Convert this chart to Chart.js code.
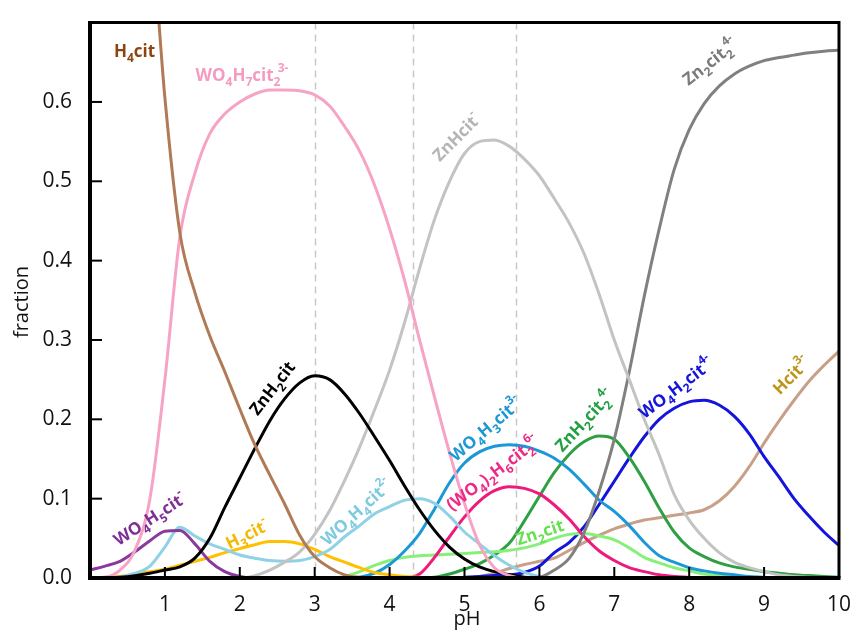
<!DOCTYPE html>
<html>
<head>
<meta charset="utf-8">
<script src="https://cdn.jsdelivr.net/npm/chart.js@4.4.1/dist/chart.umd.min.js"></script>
<style>
  html, body { margin: 0; padding: 0; background: #ffffff; }
  canvas { display: block; }
</style>
</head>
<body>
<canvas id="speciation" width="857" height="630"></canvas>
<script>
// pH grid shared by every species curve
const pH = [0,0.2,0.4,0.6,0.8,1.0,1.2,1.4,1.6,1.8,
            2.0,2.2,2.4,2.6,2.8,3.0,3.2,3.4,3.6,3.8,
            4.0,4.2,4.4,4.6,4.8,5.0,5.2,5.4,5.6,5.8,
            6.0,6.2,6.4,6.6,6.8,7.0,7.2,7.4,7.6,7.8,
            8.0,8.2,8.4,8.6,8.8,9.0,9.2,9.4,9.6,9.8,
            10];

// species fractions, one value per pH point
const H4cit = [0.98,0.975,0.96,0.93,0.84,0.605,0.435,0.36,0.305,0.26,
               0.213,0.168,0.13,0.093,0.054,0.027,0.013,0.004,0.001,0,
               0,0,0,0,0,0,0,0,0,0,
               0,0,0,0,0,0,0,0,0,0,
               0,0,0,0,0,0,0,0,0,0,
               0];
const WO4H7cit2 = [0,0.001,0.01,0.035,0.1,0.25,0.43,0.51,0.56,0.585,
                   0.60,0.61,0.615,0.615,0.614,0.609,0.595,0.569,0.538,0.495,
                   0.44,0.375,0.30,0.228,0.158,0.094,0.042,0.013,0.003,0,
                   0,0,0,0,0,0,0,0,0,0,
                   0,0,0,0,0,0,0,0,0,0,
                   0];
const ZnH2cit = [0,0,0.001,0.003,0.006,0.01,0.014,0.025,0.05,0.089,
                 0.126,0.163,0.198,0.226,0.246,0.255,0.25,0.232,0.207,0.178,
                 0.148,0.116,0.086,0.06,0.039,0.024,0.014,0.008,0.004,0.001,
                 0,0,0,0,0,0,0,0,0,0,
                 0,0,0,0,0,0,0,0,0,0,
                 0];
const ZnHcit = [0,0,0,0,0,0,0,0,0,0,
                0,0.003,0.01,0.02,0.033,0.055,0.085,0.123,0.165,0.212,
                0.262,0.322,0.39,0.452,0.5,0.535,0.55,0.552,0.544,0.528,
                0.507,0.478,0.447,0.408,0.357,0.30,0.25,0.2,0.155,0.105,
                0.073,0.05,0.032,0.02,0.013,0.008,0.004,0.002,0.001,0,
                0];
const Zn2cit2 = [0,0,0,0,0,0,0,0,0,0,
                 0,0,0,0,0,0,0,0,0,0,
                 0,0,0,0,0,0,0,0,0,0,
                 0.001,0.01,0.025,0.058,0.11,0.175,0.26,0.355,0.44,0.515,
                 0.565,0.598,0.62,0.635,0.645,0.652,0.656,0.659,0.662,0.664,
                 0.665];
const WO4H5cit = [0.01,0.015,0.021,0.033,0.047,0.059,0.06,0.043,0.021,0.008,
                  0.002,0,0,0,0,0,0,0,0,0,
                  0,0,0,0,0,0,0,0,0,0,
                  0,0,0,0,0,0,0,0,0,0,
                  0,0,0,0,0,0,0,0,0,0,
                  0];
const WO4H4cit = [0,0,0.001,0.006,0.015,0.039,0.064,0.053,0.043,0.036,
                  0.029,0.025,0.022,0.021,0.022,0.027,0.036,0.052,0.066,0.081,
                  0.09,0.098,0.1,0.094,0.078,0.058,0.043,0.028,0.016,0.007,
                  0.002,0,0,0,0,0,0,0,0,0,
                  0,0,0,0,0,0,0,0,0,0,
                  0];
const H3cit = [0,0.001,0.002,0.005,0.008,0.011,0.016,0.021,0.026,0.032,
               0.037,0.042,0.046,0.046,0.043,0.036,0.027,0.02,0.013,0.007,
               0.004,0.002,0.001,0,0,0,0,0,0,0,
               0,0,0,0,0,0,0,0,0,0,
               0,0,0,0,0,0,0,0,0,0,
               0];
const WO4H3cit = [0,0,0,0,0,0,0,0,0,0,
                  0,0,0,0,0,0,0,0,0.001,0.006,
                  0.017,0.034,0.056,0.087,0.12,0.145,0.159,0.166,0.168,0.166,
                  0.16,0.151,0.137,0.118,0.098,0.084,0.066,0.045,0.028,0.02,
                  0.013,0.009,0.006,0.004,0.002,0.001,0,0,0,0,
                  0];
const WO4_2H6cit2 = [0,0,0,0,0,0,0,0,0,0,
                     0,0,0,0,0,0,0,0,0,0,
                     0,0,0.005,0.026,0.052,0.077,0.097,0.11,0.115,0.113,
                     0.106,0.092,0.074,0.052,0.034,0.022,0.013,0.008,0.004,0.002,
                     0.001,0,0,0,0,0,0,0,0,0,
                     0];
const Zn2cit = [0,0,0,0,0,0,0,0,0,0,
                0,0,0,0,0,0,0,0.002,0.008,0.016,
                0.022,0.026,0.028,0.029,0.03,0.031,0.032,0.033,0.035,0.038,
                0.043,0.05,0.055,0.056,0.053,0.048,0.038,0.026,0.019,0.013,
                0.009,0.005,0.003,0.001,0,0,0,0,0,0,
                0];
const ZnH2cit2 = [0,0,0,0,0,0,0,0,0,0,
                  0,0,0,0,0,0,0,0,0,0,
                  0,0,0,0.001,0.005,0.011,0.018,0.029,0.044,0.072,
                  0.103,0.133,0.156,0.172,0.179,0.175,0.152,0.122,0.088,0.058,
                  0.038,0.027,0.019,0.014,0.011,0.008,0.006,0.004,0.003,0.002,
                  0.001];
const WO4H2cit = [0,0,0,0,0,0,0,0,0,0,
                  0,0,0,0,0,0,0,0,0,0,
                  0,0,0,0,0,0.001,0.002,0.003,0.004,0.007,
                  0.015,0.032,0.045,0.065,0.093,0.122,0.151,0.178,0.2,0.214,
                  0.222,0.224,0.218,0.204,0.182,0.153,0.127,0.1,0.078,0.058,
                  0.041];
const Hcit = [0,0,0,0,0,0,0,0,0,0,
              0,0,0,0,0,0,0,0,0,0,
              0,0,0,0,0,0,0.002,0.006,0.012,0.017,
              0.021,0.025,0.035,0.045,0.054,0.062,0.068,0.073,0.076,0.079,
              0.082,0.086,0.097,0.115,0.14,0.17,0.198,0.224,0.248,0.268,
              0.286];

// pH values marked with dashed guide lines
const guidePH = [3.0, 4.31, 5.685];

// axis tick values
const xTicks = [1,2,3,4,5,6,7,8,9,10];
const yTicks = [0.0,0.1,0.2,0.3,0.4,0.5,0.6];

// curve styling and species labels
const species = [
  { values: H4cit,       color: '#b07a56', label: 'H_{4}cit',             labelColor: '#8b4513', at: [0.32, 0.657], angle: 0 },
  { values: WO4H7cit2,   color: '#f7a3c6', label: 'WO_{4}H_{7}cit_{2}^{3-}', labelColor: '#f59ac0', at: [1.41, 0.626], angle: 0 },
  { values: ZnH2cit,     color: '#000000', label: 'ZnH_{2}cit',           labelColor: '#000000', at: [2.24, 0.204], angle: -52 },
  { values: ZnHcit,      color: '#c3c3c3', label: 'ZnHcit^{-}',           labelColor: '#b4b4b4', at: [4.67, 0.524], angle: -45 },
  { values: Zn2cit2,     color: '#808080', label: 'Zn_{2}cit_{2}^{4-}',   labelColor: '#7a7a7a', at: [7.99, 0.62], angle: -38 },
  { values: WO4H5cit,    color: '#8a3a9c', label: 'WO_{4}H_{5}cit^{-}',   labelColor: '#7f2e96', at: [0.38, 0.04], angle: -33 },
  { values: WO4H4cit,    color: '#8fd2e6', label: 'WO_{4}H_{4}cit^{2-}',  labelColor: '#7ccbe0', at: [3.17, 0.04], angle: -42 },
  { values: H3cit,       color: '#ffc000', label: 'H_{3}cit^{-}',         labelColor: '#f5b800', at: [1.86, 0.036], angle: -26 },
  { values: WO4H3cit,    color: '#1c98d6', label: 'WO_{4}H_{3}cit^{3-}',  labelColor: '#1c98d6', at: [4.88, 0.146], angle: -40 },
  { values: WO4_2H6cit2, color: '#ee1a7c', label: '(WO_{4})_{2}H_{6}cit_{2}^{6-}', labelColor: '#ee2a86', at: [4.83, 0.084], angle: -37 },
  { values: Zn2cit,      color: '#86f07a', label: 'Zn_{2}cit',            labelColor: '#66e050', at: [5.72, 0.041], angle: -18 },
  { values: ZnH2cit2,    color: '#2ea043', label: 'ZnH_{2}cit_{2}^{4-}',  labelColor: '#22a040', at: [6.31, 0.158], angle: -47 },
  { values: WO4H2cit,    color: '#1414dc', label: 'WO_{4}H_{2}cit^{4-}',  labelColor: '#1414dc', at: [7.40, 0.200], angle: -37 },
  { values: Hcit,        color: '#c8a088', label: 'Hcit^{3-}',            labelColor: '#bf9418', at: [9.21, 0.230], angle: -45 }
];

const datasets = species.map(s => ({
  data: pH.map((x, i) => ({ x: x, y: s.values[i] })),
  borderColor: s.color,
  borderWidth: 3,
  pointRadius: 0,
  fill: false,
  cubicInterpolationMode: 'monotone'
}));

// split "A_{b}C^{d}" into normal / subscript / superscript runs
function parseRich(text) {
  const parts = [];
  const re = /(_|\^)\{([^}]*)\}|([^_^]+)/g;
  let m;
  while ((m = re.exec(text)) !== null) {
    if (m[3]) parts.push({ t: m[3], kind: 'n' });
    else parts.push({ t: m[2], kind: m[1] === '_' ? 'sub' : 'sup' });
  }
  return parts;
}

function drawRich(ctx, text, x, y, angle, color) {
  ctx.save();
  ctx.translate(x, y);
  ctx.rotate(angle * Math.PI / 180);
  ctx.fillStyle = color;
  ctx.textBaseline = 'alphabetic';
  ctx.textAlign = 'left';
  let cx = 0;
  let lastSub = null;
  for (const p of parseRich(text)) {
    if (p.kind === 'n') {
      ctx.font = 'bold 17px "Open Sans"';
      ctx.fillText(p.t, cx, 0);
      cx += ctx.measureText(p.t).width;
      lastSub = null;
    } else if (p.kind === 'sub') {
      ctx.font = 'bold 12px "Open Sans"';
      ctx.fillText(p.t, cx, 5);
      const w = ctx.measureText(p.t).width;
      lastSub = { x: cx, w: w };
      cx += w;
    } else {
      ctx.font = 'bold 12px "Open Sans"';
      // a charge written after a subscript sits partly above it
      const sx = lastSub ? lastSub.x + lastSub.w * 0.6 : cx;
      ctx.fillText(p.t, sx, -9);
      cx = sx + ctx.measureText(p.t).width;
      lastSub = null;
    }
  }
  ctx.restore();
}

const decorations = {
  id: 'decorations',
  beforeDatasetsDraw(chart) {
    const { ctx, chartArea: a, scales: { x } } = chart;
    ctx.save();
    ctx.strokeStyle = '#c8c8c8';
    ctx.lineWidth = 1.5;
    ctx.setLineDash([7, 5]);
    for (const v of guidePH) {
      const px = Math.round(x.getPixelForValue(v)) + 0.5;
      ctx.beginPath();
      ctx.moveTo(px, a.top);
      ctx.lineTo(px, a.bottom);
      ctx.stroke();
    }
    ctx.restore();
  },
  afterDatasetsDraw(chart) {
    const { ctx, chartArea: a, scales: { x, y } } = chart;
    // species labels
    for (const s of species) {
      drawRich(ctx, s.label, x.getPixelForValue(s.at[0]), y.getPixelForValue(s.at[1]), s.angle, s.labelColor);
    }
    ctx.save();
    // inner tick marks
    ctx.strokeStyle = '#000';
    ctx.lineWidth = 2;
    for (const v of yTicks) {
      const py = y.getPixelForValue(v);
      ctx.beginPath(); ctx.moveTo(a.left, py); ctx.lineTo(a.left + 12, py); ctx.stroke();
    }
    for (const v of xTicks) {
      const px = x.getPixelForValue(v);
      ctx.beginPath(); ctx.moveTo(px, a.bottom); ctx.lineTo(px, a.bottom - 11); ctx.stroke();
    }
    // frame
    ctx.lineWidth = 3;
    ctx.beginPath(); ctx.moveTo(a.left, a.top); ctx.lineTo(a.right, a.top); ctx.lineTo(a.right, a.bottom); ctx.stroke();
    ctx.lineWidth = 4;
    ctx.beginPath(); ctx.moveTo(a.left, a.top - 1.5); ctx.lineTo(a.left, a.bottom); ctx.lineTo(a.right + 1.5, a.bottom); ctx.stroke();
    // axis titles
    ctx.fillStyle = '#111';
    ctx.font = '20px "Open Sans"';
    ctx.textAlign = 'center';
    ctx.textBaseline = 'middle';
    ctx.fillText('pH', 467, 619);
    ctx.translate(22, 302);
    ctx.rotate(-Math.PI / 2);
    ctx.fillText('fraction', 0, 0);
    ctx.restore();
  }
};

new Chart(document.getElementById('speciation'), {
  type: 'line',
  data: { datasets: datasets },
  options: {
    responsive: false,
    devicePixelRatio: 1,
    animation: false,
    layout: { padding: { top: 15, right: 11, left: 0, bottom: 0 } },
    plugins: { legend: { display: false }, tooltip: { enabled: false } },
    scales: {
      x: {
        type: 'linear',
        min: 0, max: 10,
        grid: { display: false },
        border: { display: false },
        afterFit(scale) { scale.height = 52; },
        afterBuildTicks(scale) { scale.ticks = [0].concat(xTicks).map(v => ({ value: v })); },
        ticks: {
          padding: 6,
          color: '#111',
          font: { family: 'Open Sans', size: 21 },
          callback: v => (v === 0 ? '' : String(v))
        }
      },
      y: {
        type: 'linear',
        min: 0, max: 0.7,
        grid: { display: false },
        border: { display: false },
        afterFit(scale) { scale.width = 90; },
        afterBuildTicks(scale) { scale.ticks = yTicks.map(v => ({ value: v })); },
        ticks: {
          padding: 10,
          color: '#111',
          font: { family: 'Open Sans', size: 21 },
          callback: v => v.toFixed(1)
        }
      }
    }
  },
  plugins: [decorations]
});
</script>
</body>
</html>
